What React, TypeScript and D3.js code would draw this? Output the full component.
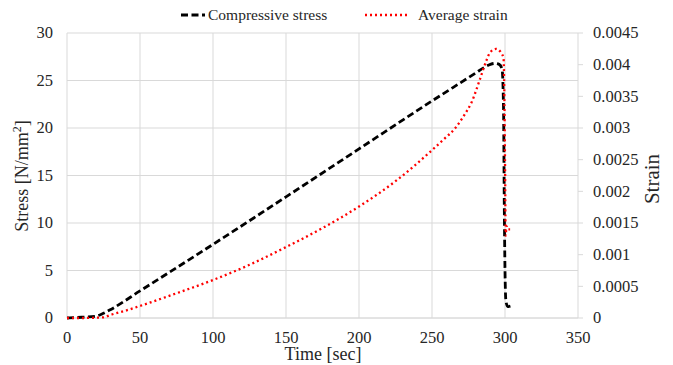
import React from "react";
import * as d3 from "d3";

const stressTime = [0, 10, 20, 25, 30, 50, 100, 150, 200, 250, 280, 285, 290, 293, 296, 298, 299, 299.5, 300, 300.5, 301, 302, 305];
const stressValues = [0, 0.08, 0.2, 0.5, 0.9, 2.85, 7.75, 12.75, 17.8, 22.85, 25.8, 26.3, 26.7, 26.8, 26.7, 26.2, 22, 12, 5, 2, 1.5, 1.2, 1.3];

const strainTime = [0, 10, 20, 25, 30, 40, 50, 75, 100, 125, 150, 175, 200, 225, 250, 258, 266, 272, 277, 283, 287, 290, 294, 297, 299, 299.5, 300, 300.5, 301, 302, 303.5];
const strainValues = [0, 0, 0.000005, 0.00001, 0.00005, 0.000115, 0.00019, 0.00039, 0.0006, 0.00084, 0.00112, 0.00142, 0.00176, 0.00216, 0.00265, 0.00282, 0.003, 0.0032, 0.0034, 0.00378, 0.00405, 0.0042, 0.00425, 0.0042, 0.0041, 0.0036, 0.0025, 0.0013, 0.00145, 0.0014, 0.0014];

const timeTicks = [0, 50, 100, 150, 200, 250, 300, 350];
const stressTicks = [0, 5, 10, 15, 20, 25, 30];
const strainTicks = [0, 0.0005, 0.001, 0.0015, 0.002, 0.0025, 0.003, 0.0035, 0.004, 0.0045];

const W = 673;
const H = 365;
const FONT = "Liberation Serif, Times New Roman, DejaVu Serif, serif";

export default function App() {
  const left = 67, right = 578, top = 33, bottom = 318;

  const x = d3.scaleLinear().domain([0, 350]).range([left, right]);
  const yL = d3.scaleLinear().domain([0, 30]).range([bottom, top]);
  const yR = d3.scaleLinear().domain([0, 0.0045]).range([bottom, top]);

  const stressLine = d3.line<number>()
    .x((_, i) => x(stressTime[i]))
    .y(d => yL(d))
    .curve(d3.curveMonotoneX);
  const strainLine = d3.line<number>()
    .x((_, i) => x(strainTime[i]))
    .y(d => yR(d))
    .curve(d3.curveMonotoneX);

  const textColor = "#262626";
  const grid = "#d9d9d9";

  return (
    <svg width={W} height={H} style={{ position: "absolute", left: 0, top: 0, background: "#fff", fontFamily: FONT }}>
      {/* gridlines */}
      {stressTicks.map(t => (
        <line key={"h" + t} x1={left} x2={right} y1={yL(t)} y2={yL(t)} stroke={t === 0 ? "#c8c8c8" : grid} strokeWidth={1} />
      ))}
      {timeTicks.map(t => (
        <line key={"v" + t} x1={x(t)} x2={x(t)} y1={top} y2={bottom} stroke={grid} strokeWidth={1} />
      ))}
      {/* right axis ticks */}
      {strainTicks.map(t => (
        <line key={"rt" + t} x1={right} x2={right + 5} y1={yR(t)} y2={yR(t)} stroke={grid} strokeWidth={1} />
      ))}

      {/* tick labels */}
      {stressTicks.map(t => (
        <text key={"yl" + t} x={53} y={yL(t)} dy="0.33em" textAnchor="end" fontSize={16.5} fill={textColor}>{t}</text>
      ))}
      {strainTicks.map(t => (
        <text key={"yr" + t} x={593} y={yR(t)} dy="0.33em" textAnchor="start" fontSize={16.5} fill={textColor}>{t === 0 ? "0" : String(t)}</text>
      ))}
      {timeTicks.map(t => (
        <text key={"xl" + t} x={x(t)} y={342.5} textAnchor="middle" fontSize={16.5} fill={textColor}>{t}</text>
      ))}

      {/* axis titles */}
      <text x={323} y={360} textAnchor="middle" fontSize={18} fill={textColor}>Time [sec]</text>
      <text transform={`translate(22,176) rotate(-90)`} dy="0.33em" textAnchor="middle" fontSize={18} fill={textColor}>
        Stress [N/mm<tspan baselineShift="super" fontSize={12}>2</tspan>]
      </text>
      <text transform={`translate(652,179) rotate(-90)`} dy="0.33em" textAnchor="middle" fontSize={21} fill={textColor}>Strain</text>

      {/* series */}
      <path d={stressLine(stressValues) || ""} fill="none" stroke="#000" strokeWidth={2.8} strokeDasharray="7,3.5" />
      <path d={strainLine(strainValues) || ""} fill="none" stroke="#ff0000" strokeWidth={2.3} strokeDasharray="2,3" />

      {/* legend */}
      <line x1={181} x2={205} y1={15} y2={15} stroke="#000" strokeWidth={2.8} strokeDasharray="7,3.5" />
      <text x={208} y={15} dy="0.33em" fontSize={15.5} fill={textColor}>Compressive stress</text>
      <line x1={365} x2={409} y1={15} y2={15} stroke="#ff0000" strokeWidth={2.3} strokeDasharray="2,3" />
      <text x={418} y={15} dy="0.33em" fontSize={15.5} fill={textColor}>Average strain</text>
    </svg>
  );
}
